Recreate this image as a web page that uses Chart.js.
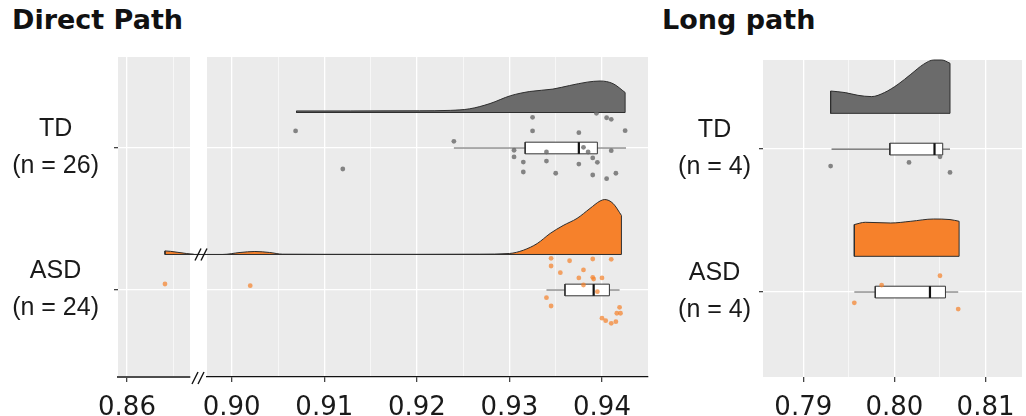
<!DOCTYPE html>
<html lang="en">
<head>
<meta charset="UTF-8">
<title>Direct Path / Long path</title>
<script src="https://cdn.jsdelivr.net/npm/chart.js"></script>
<style>
  html, body { margin: 0; padding: 0; background: #fff; }
  body { width: 1026px; height: 416px; position: relative; overflow: hidden; }
  .panel { position: absolute; top: 0; }
  .title { position: absolute; top: 6px; font: bold 27px "DejaVu Sans", Verdana, sans-serif; color: #111; white-space: nowrap; line-height: 27px; }
</style>
</head>
<body>
<div class="title" style="left:12px">Direct Path</div>
<div class="title" style="left:662px">Long path</div>
<div class="panel" style="left:0"><canvas id="cutPanel" width="199" height="416"></canvas></div>
<div class="panel" style="left:188px"><canvas id="mainPanel" width="470" height="416"></canvas></div>
<div class="panel" style="left:660px"><canvas id="longPanel" width="366" height="416"></canvas></div>

<script>
// groups, bottom to top: ASD = 1, TD = 2
const groups = ['TD', 'ASD'];
const directLabels = [['TD', '(n = 26)'], ['ASD', '(n = 24)']];
const longLabels = [['TD', '(n = 4)'], ['ASD', '(n = 4)']];

// x ticks (major are labelled, minor only get a grid line)
const cutTicks = [0.86];
const cutMinor = [0.865];
const mainTicks = [0.90, 0.91, 0.92, 0.93, 0.94];
const mainMinor = [0.905, 0.915, 0.925, 0.935];
const longTicks = [0.79, 0.80, 0.81];
const longMinor = [0.795, 0.805];

// boxplot stats: [lower whisker, q1, median, q3, upper whisker]
const tdDirectBox = [0.9240, 0.9317, 0.9375, 0.9395, 0.9426];
const asdDirectBox = [0.9340, 0.9360, 0.9391, 0.9408, 0.9419];
const tdLongBox = [0.7931, 0.7995, 0.8044, 0.8053, 0.8061];
const asdLongBox = [0.7956, 0.7979, 0.8039, 0.8056, 0.8070];

// raw observations and their vertical jitter
const tdDirectX = [0.9069, 0.9120, 0.9240, 0.9305, 0.9305, 0.9315, 0.9315, 0.9325, 0.9325, 0.9340, 0.9340, 0.9350, 0.9375,
                   0.9375, 0.9380, 0.9385, 0.9390, 0.9390, 0.9394, 0.9395, 0.9405, 0.9405, 0.9410, 0.9410, 0.9415, 0.9425];
const tdDirectJitter = [0.120, -0.148, 0.047, -0.016, -0.063, -0.099, -0.169, 0.216, 0.120, -0.028, -0.092, -0.178, 0.108,
                        -0.113, 0.005, -0.028, -0.070, -0.190, 0.244, -0.101, 0.213, -0.216, 0.202, -0.019, -0.178, 0.122];
const asdDirectX = [0.8641, 0.9020, 0.9340, 0.9345, 0.9345, 0.9345, 0.9355, 0.9365, 0.9375, 0.9380, 0.9380, 0.9390,
                    0.9390, 0.9391, 0.9395, 0.9400, 0.9400, 0.9404, 0.9410, 0.9410, 0.9415, 0.9416, 0.9419, 0.9420];
const asdDirectJitter = [0.042, 0.030, -0.054, 0.223, 0.169, -0.113, 0.122, 0.206, 0.085, 0.141, 0.035, 0.218,
                         0.089, 0.077, -0.012, -0.199, 0.085, -0.216, 0.216, -0.235, -0.223, -0.164, -0.122, -0.164];
const tdLongX = [0.7930, 0.8016, 0.8050, 0.8061];
const tdLongJitter = [-0.119, -0.093, -0.054, -0.163];
const asdLongX = [0.7956, 0.7986, 0.8050, 0.8070];
const asdLongJitter = [-0.075, 0.049, 0.114, -0.119];

// density clouds: x and height (in row units)
const tdDirectDensX = [0.9070, 0.9128, 0.9203, 0.9236, 0.9257, 0.9279, 0.9301, 0.9322, 0.9347, 0.9365, 0.9384, 0.9398, 0.9412, 0.9425];
const tdDirectDensH = [0.011, 0.011, 0.012, 0.015, 0.026, 0.063, 0.118, 0.148, 0.165, 0.190, 0.214, 0.222, 0.203, 0.141];
const asdDirectDensX = [0.8641, 0.8647, 0.8655, 0.8664, 0.8672, 0.8700, 0.8990, 0.9009, 0.9025, 0.9041, 0.9055, 0.9100, 0.9200,
                        0.9268, 0.9300, 0.9315, 0.9330, 0.9344, 0.9358, 0.9373, 0.9387, 0.9398, 0.9403, 0.9412, 0.9421];
const asdDirectDensH = [0.025, 0.022, 0.015, 0.007, 0.002, 0, 0, 0.014, 0.021, 0.014, 0.002, 0.001, 0.001,
                        0.002, 0.007, 0.030, 0.077, 0.148, 0.204, 0.254, 0.324, 0.377, 0.387, 0.359, 0.275];
const tdLongDensX = [0.7930, 0.7946, 0.7960, 0.7975, 0.7989, 0.8004, 0.8018, 0.8032, 0.8043, 0.8052, 0.8061];
const tdLongDensH = [0.156, 0.145, 0.126, 0.117, 0.145, 0.203, 0.273, 0.343, 0.373, 0.373, 0.350];
const asdLongDensX = [0.7956, 0.7968, 0.7996, 0.8018, 0.8043, 0.8061, 0.8071];
const asdLongDensH = [0.222, 0.238, 0.233, 0.245, 0.261, 0.257, 0.245];

const ROW = { TD: 2, ASD: 1 };
const CLOUD = 0.25;   // cloud sits this far above the row line
const BOX = 0.041;    // half height of the box
const GREY = '#6b6b6b';
const ORANGE = '#f6812b';
const EDGE = '#2e2e2e';

function cloudSets(xs, hs, row, fill) {
  const base = row + CLOUD;
  const n = xs.length - 1;
  return [
    { type: 'line', data: xs.map((x, i) => ({ x, y: base + hs[i] })), fill: { value: base },
      backgroundColor: fill, borderColor: EDGE, borderWidth: 1, pointRadius: 0,
      cubicInterpolationMode: 'monotone', clip: false, order: 6 },
    { type: 'line', data: [{ x: xs[0], y: base + hs[0] }, { x: xs[0], y: base }, { x: xs[n], y: base }, { x: xs[n], y: base + hs[n] }],
      borderColor: EDGE, borderWidth: 1, pointRadius: 0, fill: false, clip: false, order: 5 }
  ];
}

function boxSets(stats, row) {
  const [lo, q1, med, q3, hi] = stats;
  return [
    { type: 'line', data: [{ x: lo, y: row }, { x: hi, y: row }], borderColor: '#5e5e5e', borderWidth: 1.1, pointRadius: 0, order: 4 },
    { type: 'line', data: [{ x: q1, y: row - BOX }, { x: q3, y: row - BOX }, { x: q3, y: row + BOX }, { x: q1, y: row + BOX }, { x: q1, y: row - BOX }],
      fill: 'shape', backgroundColor: '#ffffff', borderColor: '#333', borderWidth: 1, pointRadius: 0, order: 3 },
    { type: 'line', data: [{ x: med, y: row - BOX }, { x: med, y: row + BOX }], borderColor: '#111', borderWidth: 2.2, pointRadius: 0, order: 2 }
  ];
}

function rainSet(xs, jit, row, color) {
  return { type: 'scatter', data: xs.map((x, i) => ({ x, y: row + jit[i] })), backgroundColor: color,
           borderWidth: 0, pointRadius: 2.4, order: 1 };
}

const directSets = [
  ...cloudSets(tdDirectDensX, tdDirectDensH, ROW.TD, GREY),
  ...cloudSets(asdDirectDensX, asdDirectDensH, ROW.ASD, ORANGE),
  ...boxSets(tdDirectBox, ROW.TD),
  ...boxSets(asdDirectBox, ROW.ASD),
  rainSet(tdDirectX, tdDirectJitter, ROW.TD, 'rgba(105,105,105,0.8)'),
  rainSet(asdDirectX, asdDirectJitter, ROW.ASD, 'rgba(245,128,40,0.7)')
];
const longSets = [
  ...cloudSets(tdLongDensX, tdLongDensH, ROW.TD, GREY),
  ...cloudSets(asdLongDensX, asdLongDensH, ROW.ASD, ORANGE),
  ...boxSets(tdLongBox, ROW.TD),
  ...boxSets(asdLongBox, ROW.ASD),
  rainSet(tdLongX, tdLongJitter, ROW.TD, 'rgba(105,105,105,0.8)'),
  rainSet(asdLongX, asdLongJitter, ROW.ASD, 'rgba(245,128,40,0.7)')
];

const panelBg = {
  id: 'panelBg',
  beforeDraw(chart) {
    const { ctx, chartArea: a } = chart;
    ctx.save();
    ctx.fillStyle = '#ebebeb';
    ctx.fillRect(a.left, a.top, a.right - a.left, a.bottom - a.top);
    ctx.restore();
  }
};

// the "//" marks of the broken axis
const breakMarks = {
  id: 'breakMarks',
  afterDraw(chart) {
    const { ctx, chartArea: a, scales } = chart;
    const spots = [[a.left - 9, a.bottom + 1], [a.left - 6, scales.y.getPixelForValue(ROW.ASD + CLOUD)]];
    ctx.save();
    ctx.strokeStyle = '#111';
    ctx.lineWidth = 1.4;
    spots.forEach(([cx, cy]) => {
      [-3, 3].forEach(d => {
        ctx.beginPath();
        ctx.moveTo(cx + d - 3, cy + 6);
        ctx.lineTo(cx + d + 3, cy - 6);
        ctx.stroke();
      });
    });
    ctx.restore();
  }
};

function xScale(min, max, majors, minors, border) {
  const all = [...majors, ...minors].sort((a, b) => a - b);
  const isMajor = c => c.tick && majors.includes(c.tick.value);
  return {
    type: 'linear', min, max,
    afterBuildTicks: s => { s.ticks = all.map(v => ({ value: v })); },
    afterFit: s => { s.height = 39; s.paddingLeft = 0; s.paddingRight = 0; },
    ticks: {
      autoSkip: false, maxRotation: 0, padding: 4, color: '#1a1a1a',
      font: { family: '"DejaVu Sans", Verdana, sans-serif', size: 26, lineHeight: 1.7 },
      callback: v => majors.includes(v) ? v.toFixed(2) : ''
    },
    grid: {
      color: '#ffffff',
      lineWidth: c => isMajor(c) ? 1.3 : 0.6,
      tickLength: 5,
      tickColor: c => isMajor(c) ? '#444' : 'rgba(0,0,0,0)'
    },
    border
  };
}

function yScale(min, max, labels, width, show, pad) {
  return {
    type: 'linear', min, max,
    afterBuildTicks: s => { s.ticks = [{ value: ROW.ASD }, { value: ROW.TD }]; },
    afterFit: s => { s.width = width; s.paddingTop = 0; s.paddingBottom = 0; },
    ticks: {
      display: show, crossAlign: 'center', padding: pad, color: '#1a1a1a',
      font: { family: '"Liberation Sans", Arial, sans-serif', size: 25, lineHeight: 1.48 },
      callback: v => labels[groups.findIndex(g => ROW[g] === v)]
    },
    grid: { color: '#ffffff', lineWidth: 1.3, tickLength: 4, tickColor: '#444', drawTicks: show },
    border: { display: false }
  };
}

function panel(id, sets, x, y, padding, plugins) {
  new Chart(document.getElementById(id), {
    type: 'scatter',
    data: { datasets: sets },
    options: {
      responsive: false, animation: false, events: [], devicePixelRatio: 1,
      layout: { padding },
      plugins: { legend: { display: false }, tooltip: { enabled: false } },
      scales: { x, y }
    },
    plugins: [panelBg, ...plugins]
  });
}

panel('cutPanel', directSets,
  xScale(0.85903, 0.8668, cutTicks, cutMinor, { display: true, color: '#4d4d4d', width: 2 }),
  yScale(0.387, 2.641, directLabels, 118, true, 15),
  { top: 57, right: 9, left: 0, bottom: 0 }, []);

panel('mainPanel', directSets,
  xScale(0.89733, 0.94497, mainTicks, mainMinor, { display: true, color: '#111', width: 1.3 }),
  yScale(0.387, 2.641, directLabels, 0, false, 0),
  { top: 57, right: 10, left: 19, bottom: 0 }, [breakMarks]);

panel('longPanel', longSets,
  xScale(0.78558, 0.8140, longTicks, longMinor, { display: false }),
  yScale(0.406, 2.623, longLabels, 103, true, 8),
  { top: 60, right: 0, left: 0, bottom: 0 }, []);
</script>
</body>
</html>
